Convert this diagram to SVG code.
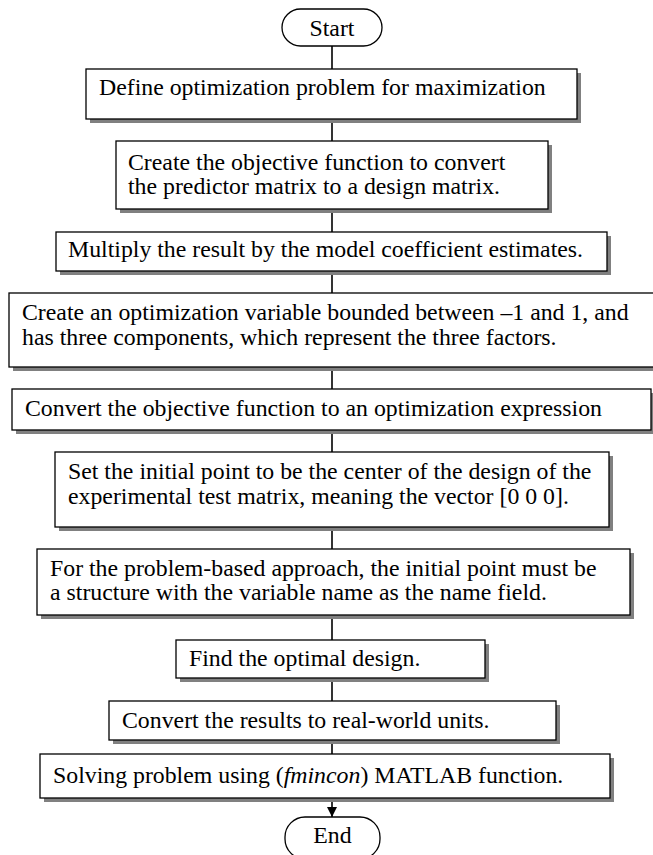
<svg xmlns="http://www.w3.org/2000/svg" width="653" height="855" viewBox="0 0 653 855">
  <style>
    .box { fill: #ffffff; stroke: #000000; stroke-width: 1.3; }
    .shadow { fill: #808080; }
    .term { fill: #ffffff; stroke: #000000; stroke-width: 1.3; }
    .t { font-family: "Liberation Serif", "Times New Roman", serif; font-size: 23.8px; fill: #000000; }
    .c { text-anchor: middle; }
    .link { stroke: #000000; stroke-width: 1.6; fill: none; }
  </style>
  <defs>
    <marker id="arrow" viewBox="0 0 10 10" refX="10" refY="5" markerWidth="10" markerHeight="10" markerUnits="userSpaceOnUse" orient="auto">
      <path d="M0,0 L10,5 L0,10 Z" fill="#000000"/>
    </marker>
  </defs>
  <rect width="653" height="855" fill="#ffffff"/>

  <!-- connectors -->
  <g id="connectors">
    <line class="link" x1="332" y1="46" x2="332" y2="69"/>
    <line class="link" x1="332" y1="119" x2="332" y2="141"/>
    <line class="link" x1="332" y1="209" x2="332" y2="232"/>
    <line class="link" x1="332" y1="271" x2="332" y2="293"/>
    <line class="link" x1="332" y1="367" x2="332" y2="389"/>
    <line class="link" x1="332" y1="430" x2="332" y2="452"/>
    <line class="link" x1="332" y1="527" x2="332" y2="549"/>
    <line class="link" x1="332" y1="615" x2="332" y2="640"/>
    <line class="link" x1="332" y1="678" x2="332" y2="701"/>
    <line class="link" x1="332" y1="740" x2="332" y2="754"/>
    <line class="link" x1="332" y1="798" x2="332" y2="817" marker-end="url(#arrow)"/>
  </g>

  <g id="start">
    <rect class="term" x="282" y="9" width="100" height="37" rx="18.5"/>
    <text class="t c" x="332" y="36">Start</text>
  </g>

  <g id="define">
    <rect class="shadow" x="90" y="73" width="491" height="50"/>
    <rect class="box" x="86" y="69" width="491" height="50"/>
    <text class="t" x="99" y="95">Define optimization problem for maximization</text>
  </g>

  <g id="objective">
    <rect class="shadow" x="120" y="145" width="432" height="68"/>
    <rect class="box" x="116" y="141" width="432" height="68"/>
    <text class="t" x="128" y="170">Create the objective function to convert</text>
    <text class="t" x="128" y="194">the predictor matrix to a design matrix.</text>
  </g>

  <g id="multiply">
    <rect class="shadow" x="60" y="236" width="551" height="39"/>
    <rect class="box" x="56" y="232" width="551" height="39"/>
    <text class="t" x="68" y="257">Multiply the result by the model coefficient estimates.</text>
  </g>

  <g id="variable">
    <rect class="shadow" x="13" y="297" width="645" height="74"/>
    <rect class="box" x="9" y="293" width="645" height="74"/>
    <text class="t" x="22" y="320">Create an optimization variable bounded between –1 and 1, and</text>
    <text class="t" x="22" y="345">has three components, which represent the three factors.</text>
  </g>

  <g id="expression">
    <rect class="shadow" x="16" y="393" width="639" height="41"/>
    <rect class="box" x="12" y="389" width="639" height="41"/>
    <text class="t" x="25" y="416">Convert the objective function to an optimization expression</text>
  </g>

  <g id="initial-point">
    <rect class="shadow" x="59" y="456" width="554" height="75"/>
    <rect class="box" x="55" y="452" width="554" height="75"/>
    <text class="t" x="68" y="479">Set the initial point to be the center of the design of the</text>
    <text class="t" x="68" y="504">experimental test matrix, meaning the vector [0 0 0].</text>
  </g>

  <g id="structure">
    <rect class="shadow" x="41" y="553" width="593" height="66"/>
    <rect class="box" x="37" y="549" width="593" height="66"/>
    <text class="t" x="50" y="576">For the problem-based approach, the initial point must be</text>
    <text class="t" x="50" y="600">a structure with the variable name as the name field.</text>
  </g>

  <g id="optimal">
    <rect class="shadow" x="180" y="644" width="309" height="38"/>
    <rect class="box" x="176" y="640" width="309" height="38"/>
    <text class="t" x="189" y="666">Find the optimal design.</text>
  </g>

  <g id="units">
    <rect class="shadow" x="113" y="705" width="447" height="39"/>
    <rect class="box" x="109" y="701" width="447" height="39"/>
    <text class="t" x="122" y="728">Convert the results to real-world units.</text>
  </g>

  <g id="solve">
    <rect class="shadow" x="44" y="758" width="570" height="44"/>
    <rect class="box" x="40" y="754" width="570" height="44"/>
    <text class="t" x="53" y="783">Solving problem using (<tspan font-style="italic">fmincon</tspan>) MATLAB function.</text>
  </g>

  <g id="end">
    <rect class="term" x="285" y="817" width="95" height="42" rx="20"/>
    <text class="t c" x="332.5" y="843">End</text>
  </g>
</svg>
